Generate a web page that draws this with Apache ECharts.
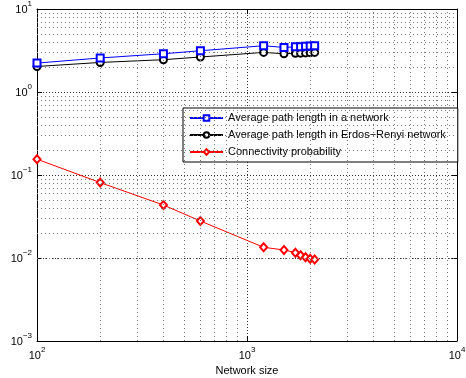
<!DOCTYPE html>
<html><head><meta charset="utf-8">
<script src="https://cdn.jsdelivr.net/npm/echarts@6/dist/echarts.min.js"></script>
<style>html,body{margin:0;padding:0;background:#fff}#c{width:466px;height:378px}</style>
</head><body><div id="c"></div>
<script>
const sizes = [100, 200, 400, 600, 1200, 1500, 1700, 1800, 1900, 2000, 2100];
const avgPath = [2.23, 2.57, 2.89, 3.14, 3.61, 3.44, 3.5, 3.52, 3.55, 3.58, 3.6];
const erPath = [2.03, 2.27, 2.45, 2.64, 3.0, 2.89, 2.93, 2.94, 2.96, 2.98, 3.0];
const connProb = [0.155, 0.081, 0.0435, 0.0279, 0.01345, 0.0125, 0.0116, 0.0108, 0.0102, 0.0098, 0.0096];
const seriesNames = ['Average path length in a network', 'Average path length in Erdos\u2212Renyi network', 'Connectivity probability'];
const xMinorGrid = [200,300,400,500,600,700,800,900,2000,3000,4000,5000,6000,7000,8000,9000];
const yMinorGrid = [0.002,0.003,0.004,0.005,0.006,0.007,0.008,0.009,0.02,0.03,0.04,0.05,0.06,0.07,0.08,0.09,0.2,0.3,0.4,0.5,0.6,0.7,0.8,0.9,2,3,4,5,6,7,8,9];
const xLabel = 'Network size';

const font = 'Liberation Sans, Arial, Helvetica, sans-serif';
function supFmt(v){
  const e = Math.round(Math.log10(v));
  const es = e < 0 ? '\u2212' + (-e) : String(e);
  return '{b|10}{s|' + es + '}';
}
const rich = {
  b:{fontSize:11, fontFamily:font, color:'#000', verticalAlign:'bottom', padding:[4,0,0,0]},
  s:{fontSize:8, fontFamily:font, color:'#000', verticalAlign:'top', padding:[0,0,6,0]}
};
const mk = (arr)=>sizes.map((s,i)=>[s, arr[i]]);
const minorLine = {type:[1,3], color:'#777', width:1};
const grid = {left:37, right:9, top:9, bottom:37, outerBoundsMode:'none', containLabel:false};

const chart = echarts.init(document.getElementById('c'), null, {renderer:'canvas'});
chart.setOption({
  animation:false,
  backgroundColor:'#fff',
  grid: grid,
  legend:{
    orient:'vertical', left:183, top:108, width:262,
    backgroundColor:'#fff', borderColor:'#000', borderWidth:1,
    padding:[4,12,4,6], itemGap:5, itemWidth:33, itemHeight:7,
    textStyle:{fontSize:11, fontFamily:font, color:'#000', lineHeight:12},
    data: seriesNames
  },
  xAxis:[{
    type:'log', logBase:10, min:100, max:10000,
    name:xLabel, nameLocation:'middle', nameGap:22,
    nameTextStyle:{fontSize:11, fontFamily:font, color:'#000'},
    axisLine:{show:true, onZero:false, lineStyle:{color:'#000', width:1}},
    axisTick:{inside:true, length:5, lineStyle:{color:'#000'}},
    axisLabel:{formatter:supFmt, rich:rich, margin:5, hideOverlap:false},
    splitLine:{show:true, lineStyle:{type:[1,2], color:'#333', width:1}}
  },{
    type:'log', logBase:10, min:100, max:10000, position:'top',
    axisLine:{show:true, onZero:false, lineStyle:{color:'#000', width:1}},
    axisTick:{inside:true, length:5, lineStyle:{color:'#000'}},
    axisLabel:{show:false}, splitLine:{show:false}
  }],
  yAxis:[{
    type:'log', logBase:10, min:0.001, max:10,
    axisLine:{show:true, onZero:false, lineStyle:{color:'#000', width:1}},
    axisTick:{inside:true, length:5, lineStyle:{color:'#000'}},
    axisLabel:{formatter:supFmt, rich:rich, margin:5, padding:[0,0,3,0]},
    splitLine:{show:true, lineStyle:{type:[1,2], color:'#333', width:1}}
  },{
    type:'log', logBase:10, min:0.001, max:10, position:'right',
    axisLine:{show:true, onZero:false, lineStyle:{color:'#000', width:1}},
    axisTick:{inside:true, length:5, lineStyle:{color:'#000'}},
    axisLabel:{show:false}, splitLine:{show:false}
  }],
  series:[
    {
      name:seriesNames[0], type:'line', data:mk(avgPath),
      symbol:'emptyRect', symbolSize:7, z:5,
      lineStyle:{color:'#0000ff', width:1}, itemStyle:{color:'#0000ff', borderWidth:1},
      markLine:{
        silent:true, symbol:'none', label:{show:false}, animation:false,
        lineStyle:minorLine, emphasis:{disabled:true},
        data: xMinorGrid.map(v=>({xAxis:v})).concat(yMinorGrid.map(v=>({yAxis:v})))
      }
    },
    {
      name:seriesNames[1], type:'line', data:mk(erPath),
      symbol:'emptyCircle', symbolSize:7, z:4,
      lineStyle:{color:'#000', width:1}, itemStyle:{color:'#000', borderWidth:1}
    },
    {
      name:seriesNames[2], type:'line', data:mk(connProb),
      symbol:'emptyDiamond', symbolSize:[7,8], z:4,
      lineStyle:{color:'#ff0000', width:1}, itemStyle:{color:'#ff0000', borderWidth:1}
    }
  ]
});
</script></body></html>
